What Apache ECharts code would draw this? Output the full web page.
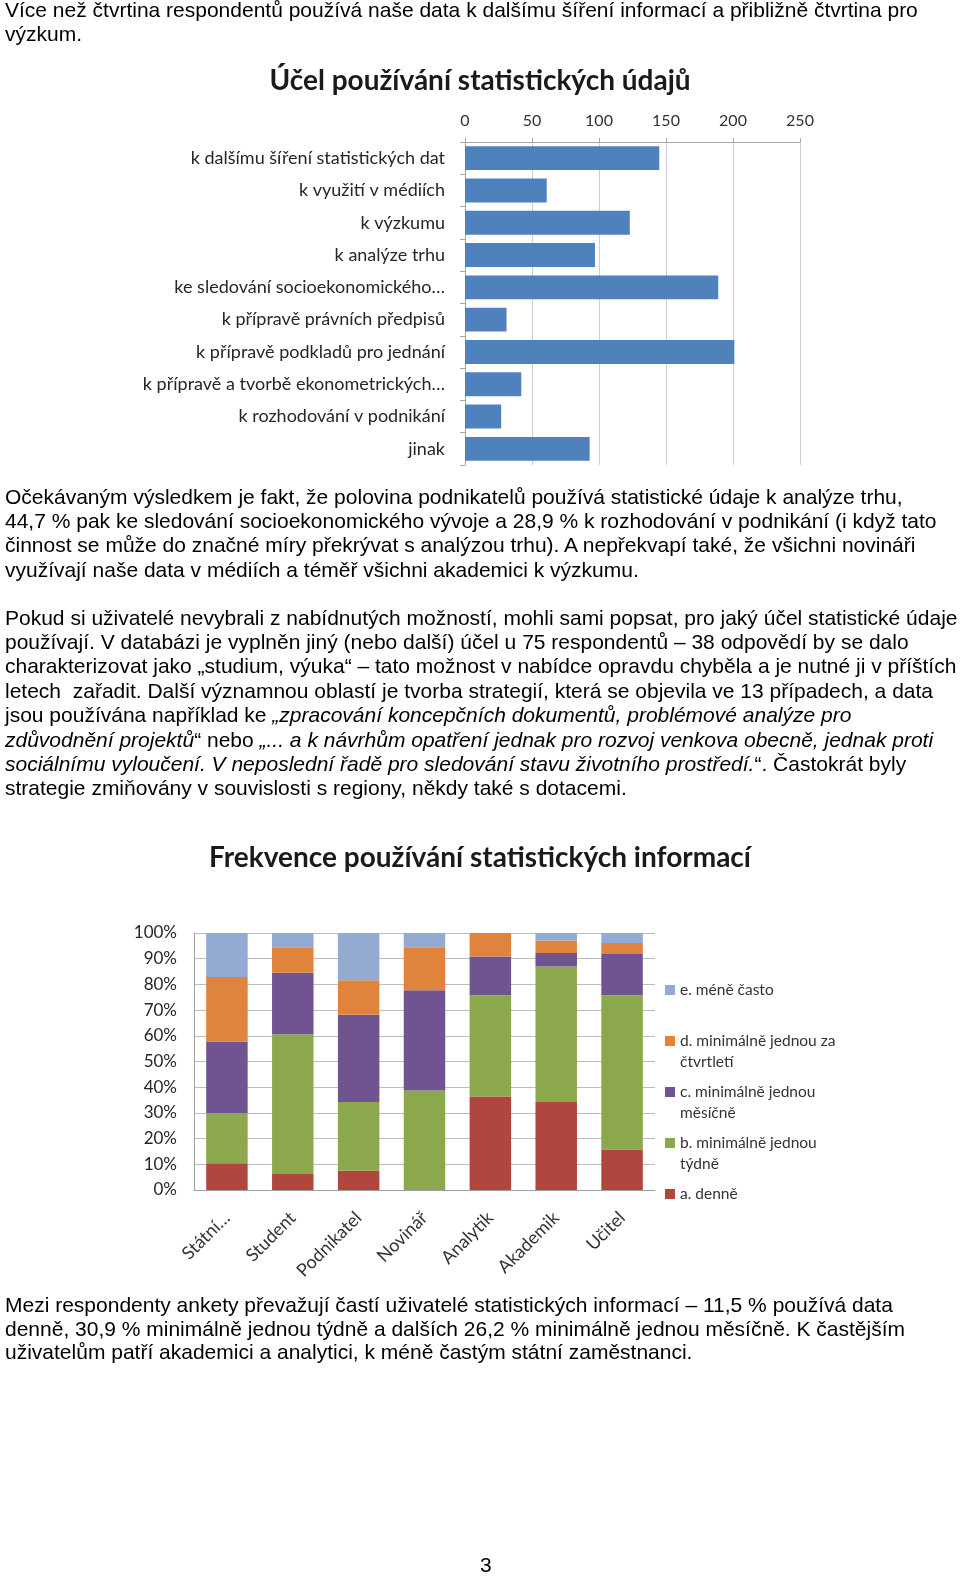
<!DOCTYPE html>
<html>
<head>
<meta charset="utf-8">
<script src="https://cdn.jsdelivr.net/npm/echarts@6/dist/echarts.min.js"></script>
<style>
html,body{margin:0;padding:0;background:#fff;}
#page{position:relative;width:960px;height:1576px;overflow:hidden;}
#chart{position:absolute;left:0;top:0;width:960px;height:1576px;}
.ln{position:absolute;left:5px;height:24px;line-height:24px;white-space:pre;font-family:"Liberation Sans",Arial,sans-serif;font-size:21px;color:#000;z-index:2;}
</style>
</head>
<body>
<div id="page">
<div id="chart"></div>
<div id="text"></div>
</div>
<script>
// ---------- DATA ----------
const purposeCategories = [
  'k dalšímu šíření statistických dat',
  'k využití v médiích',
  'k výzkumu',
  'k analýze trhu',
  'ke sledování socioekonomického…',
  'k přípravě právních předpisů',
  'k přípravě podkladů pro jednání',
  'k přípravě a tvorbě ekonometrických…',
  'k rozhodování v podnikání',
  'jinak'
];
const purposeValues = [145, 61, 123, 97, 189, 31, 201, 42, 27, 93];

const roleCategories = ['Státní…', 'Student', 'Podnikatel', 'Novinář', 'Analytik', 'Akademik', 'Učitel'];
const freqNames = [
  'a. denně',
  'b. minimálně jednou týdně',
  'c. minimálně jednou měsíčně',
  'd. minimálně jednou za čtvrtletí',
  'e. méně často'
];
const dailyValues     = [10.4, 6.2, 7.5, 0.0, 36.4, 34.2, 15.8];
const weeklyValues    = [19.6, 54.4, 26.7, 38.7, 39.4, 52.8, 60.0];
const monthlyValues   = [27.8, 23.9, 34.0, 39.0, 15.1, 5.2, 16.0];
const quarterlyValues = [25.1, 10.0, 13.4, 16.8, 9.1, 4.9, 4.3];
const lessValues      = [17.1, 5.5, 18.4, 5.5, 0.0, 2.9, 3.9];
const freqValues = [dailyValues, weeklyValues, monthlyValues, quarterlyValues, lessValues];

// ---------- TEXT ----------
const textLines = [
  [10, 'Více než čtvrtina respondentů používá naše data k dalšímu šíření informací a přibližně čtvrtina pro'],
  [34, 'výzkum.'],
  [497, 'Očekávaným výsledkem je fakt, že polovina podnikatelů používá statistické údaje k analýze trhu,'],
  [521, '44,7 % pak ke sledování socioekonomického vývoje a 28,9 % k rozhodování v podnikání (i když tato'],
  [545, 'činnost se může do značné míry překrývat s analýzou trhu). A nepřekvapí také, že všichni novináři'],
  [570, 'využívají naše data v médiích a téměř všichni akademici k výzkumu.'],
  [618, 'Pokud si uživatelé nevybrali z nabídnutých možností, mohli sami popsat, pro jaký účel statistické údaje'],
  [642, 'používají. V databázi je vyplněn jiný (nebo další) účel u 75 respondentů – 38 odpovědí by se dalo'],
  [666, 'charakterizovat jako „studium, výuka“ – tato možnost v nabídce opravdu chyběla a je nutné ji v příštích'],
  [691, 'letech  zařadit. Další významnou oblastí je tvorba strategií, která se objevila ve 13 případech, a data'],
  [715, 'jsou používána například ke <i>„zpracování koncepčních dokumentů, problémové analýze pro</i>'],
  [740, '<i>zdůvodnění projektů</i>“ nebo <i>„... a k návrhům opatření jednak pro rozvoj venkova obecně, jednak proti</i>'],
  [764, '<i>sociálnímu vyloučení. V neposlední řadě pro sledování stavu životního prostředí.</i>“. Častokrát byly'],
  [788, 'strategie zmiňovány v souvislosti s regiony, někdy také s dotacemi.'],
  [1305, 'Mezi respondenty ankety převažují častí uživatelé statistických informací – 11,5 % používá data'],
  [1329, 'denně, 30,9 % minimálně jednou týdně a dalších 26,2 % minimálně jednou měsíčně. K častějším'],
  [1352, 'uživatelům patří akademici a analytici, k méně častým státní zaměstnanci.']
];
const textBox = document.getElementById('text');
textLines.forEach(([cy, html]) => {
  const d = document.createElement('div');
  d.className = 'ln';
  d.style.top = (cy - 12) + 'px';
  d.innerHTML = html;
  textBox.appendChild(d);
});
const pn = document.createElement('div');
pn.className = 'ln';
pn.style.left = '480px';
pn.style.top = (1565 - 12) + 'px';
pn.textContent = '3';
textBox.appendChild(pn);

// ---------- CHART ----------
const freqColors = ['#b0473f', '#8ca84c', '#6f5491', '#e0833c', '#93aad2'];
const FONT = 'Lato, "Open Sans", sans-serif';

function wrapName(name, max) {
  const words = name.split(' ');
  const lines = [];
  let cur = '';
  words.forEach(w => {
    const t = cur ? cur + ' ' + w : w;
    if (t.length > max && cur) { lines.push(cur); cur = w; } else { cur = t; }
  });
  lines.push(cur);
  return lines;
}

const legendCenters = [1194, 1143, 1092, 1041, 990];
const LH = 21;
const legends = freqNames.map((name, i) => {
  const lines = wrapName(name, 22);
  const multi = lines.length > 1;
  return {
    data: [name],
    left: 665,
    top: multi ? legendCenters[i] - LH * 1.5 : legendCenters[i] - LH / 2,
    orient: 'vertical',
    padding: 0,
    itemWidth: 10,
    itemHeight: 10,
    icon: 'rect',
    selectedMode: false,
    formatter: () => multi ? ' \n' + lines.join('\n') : lines[0],
    textStyle: { fontFamily: FONT, fontSize: 15.5, color: '#333', lineHeight: LH }
  };
});

const chart = echarts.init(document.getElementById('chart'), null, { renderer: 'canvas' });
chart.setOption({
  animation: false,
  backgroundColor: 'transparent',
  title: [
    { text: 'Účel používání statistických údajů', left: 'center', top: 62,
      textStyle: { fontFamily: FONT, fontSize: 28, fontWeight: 'bold', color: '#1a1a1a' } },
    { text: 'Frekvence používání statistických informací', left: 'center', top: 839,
      textStyle: { fontFamily: FONT, fontSize: 28, fontWeight: 'bold', color: '#1a1a1a' } }
  ],
  legend: legends,
  grid: [
    { left: 465, top: 142, width: 335, height: 323 },
    { left: 194, top: 933, width: 461, height: 257 }
  ],
  xAxis: [
    { type: 'value', gridIndex: 0, position: 'top', min: 0, max: 250, interval: 50,
      axisLine: { show: true, lineStyle: { color: '#a6a6a6' } },
      axisTick: { show: true, length: 4, lineStyle: { color: '#a6a6a6' } },
      splitLine: { lineStyle: { color: '#cfcfcf' } },
      axisLabel: { fontFamily: FONT, fontSize: 16, color: '#333', margin: 13 } },
    { type: 'category', gridIndex: 1, data: roleCategories,
      axisLine: { lineStyle: { color: '#a0a0a0' } },
      axisTick: { show: false },
      axisLabel: { fontFamily: FONT, fontSize: 18, color: '#333', rotate: 45, margin: 25,
        interval: 0, verticalAlign: 'middle' } }
  ],
  yAxis: [
    { type: 'category', gridIndex: 0, data: purposeCategories, inverse: true,
      axisLine: { lineStyle: { color: '#a6a6a6' } },
      axisTick: { show: true, length: 5, lineStyle: { color: '#a6a6a6' } },
      axisLabel: { fontFamily: FONT, fontSize: 18, color: '#262626', margin: 20 } },
    { type: 'value', gridIndex: 1, min: 0, max: 100, interval: 10,
      axisLine: { show: true, lineStyle: { color: '#a0a0a0' } },
      axisTick: { show: false },
      splitLine: { lineStyle: { color: '#bdbdbd' } },
      axisLabel: { fontFamily: FONT, fontSize: 17, color: '#262626', margin: 17, formatter: '{value}%' } }
  ],
  series: [
    { type: 'bar', xAxisIndex: 0, yAxisIndex: 0, data: purposeValues,
      barCategoryGap: '26%', itemStyle: { color: '#4f81bd' } }
  ].concat(freqNames.map((name, i) => ({
    type: 'bar', name: name, xAxisIndex: 1, yAxisIndex: 1, stack: 'freq',
    data: freqValues[i], barCategoryGap: '37%', itemStyle: { color: freqColors[i] }
  })))
});
</script>
</body>
</html>
